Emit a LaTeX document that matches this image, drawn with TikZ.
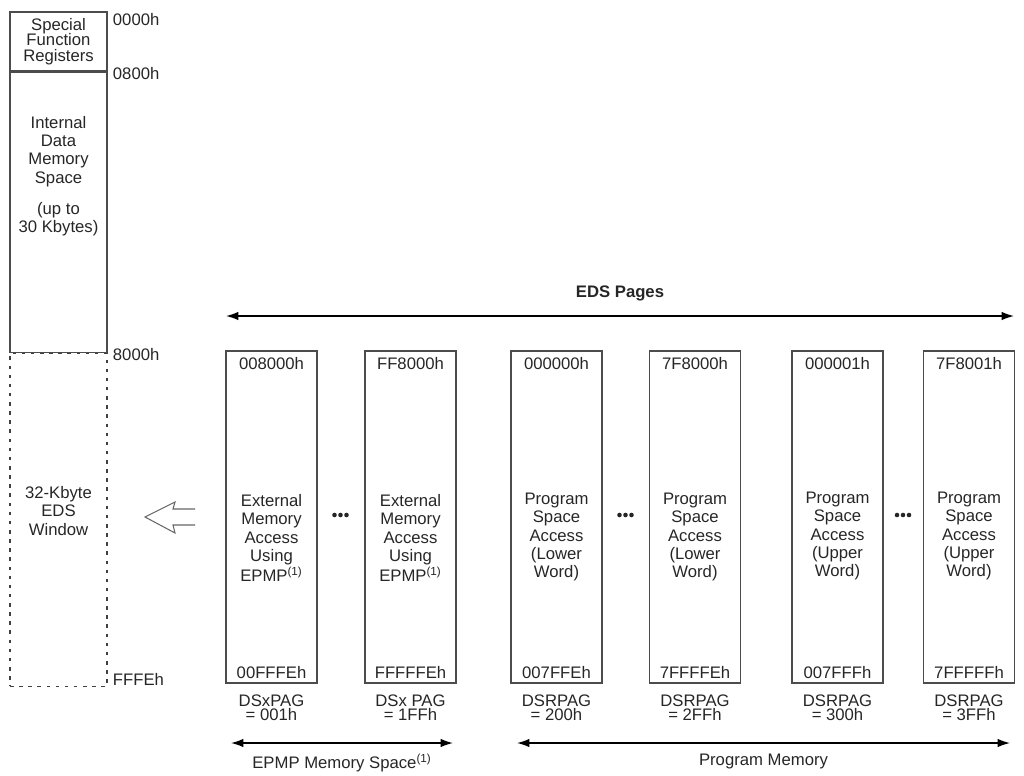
\documentclass[tikz,border=0pt]{standalone}
\usepackage{fontspec}
\setmainfont{Liberation Sans}
\usetikzlibrary{arrows.meta,positioning}

\begin{document}
\begin{tikzpicture}[x=0.02cm, y=-0.02cm,
  txt/.style={font=\fontsize{9.5}{10.5}\selectfont, align=center, inner sep=0pt, text=black!85},
  addr/.style={font=\fontsize{9.5}{10.5}\selectfont, inner sep=0pt, text=black!85},
  pagval/.style={font=\fontsize{9.5}{8}\selectfont, align=center, inner sep=0pt, text=black!85},
  regbox/.style={draw=black!70, line width=0.7pt, minimum width=1.94cm, inner sep=0pt,
                 font=\fontsize{9.5}{9}\selectfont, align=center, text=black!85},
  winbox/.style={regbox, draw=black!75, dash pattern=on 2pt off 3.2pt, minimum height=6.66cm},
  page/.style={draw=black!70, line width=0.7pt, minimum width=1.82cm,
               minimum height=6.64cm, inner sep=0pt},
  span/.style={{Latex[length=7pt,width=4.8pt]}-{Latex[length=7pt,width=4.8pt]}, line width=0.8pt},
  dots/.style={fill=black!85, draw=none, circle, inner sep=0pt, minimum size=2.6pt}
]
\useasboundingbox (0,0) rectangle (1024,775);

%% -- Data space column (left) ------------------------------------------------
\node[regbox, minimum height=1.18cm] (sfr) at (58.5,41.5) {Special\\Function\\Registers};
\node[regbox, minimum height=5.6cm, below=0pt of sfr] (idata) {};
\node[winbox, below=0pt of idata] (edswin) {};
\node[txt] (idtext) at (58.5,176) {Internal\\Data\\Memory\\Space\\[7pt](up to\\30 Kbytes)};
\node[txt] (wintext) at (58.5,511) {32-Kbyte\\EDS\\Window};

% addresses on the right of the column
\node[addr, anchor=north west] (a0000) at ([xshift=0.1cm,yshift=-0.04cm]sfr.north east) {0000h};
\node[addr, anchor=west]       (a0800) at ([xshift=0.1cm,yshift=-0.03cm]sfr.south east) {0800h};
\node[addr, anchor=west]       (a8000) at ([xshift=0.1cm,yshift=-0.04cm]idata.south east) {8000h};
\node[addr, anchor=base west]  (afffe) at ([xshift=0.1cm,yshift=0.02cm]edswin.south east) {FFFEh};

% hollow arrow: page is mapped into the window
\draw[black!60, line width=0.6pt, line join=miter]
  (195,509) -- (173,509) -- (175,502) -- (145,517) -- (175,533) -- (173,525) -- (195,525);

%% -- EDS pages -------------------------------------------------------------
\node[page] (epmpA) at (271.5,517) {};
\node[page] (epmpB) at (410.5,517) {};
\node[page] (psvLA) at (556.5,517) {};
\node[page] (psvLB) at (695,517)   {};
\node[page] (psvUA) at (837.5,517) {};
\node[page] (psvUB) at (969,517)   {};

% start / end addresses
\node[addr, anchor=north] at ([yshift=-0.14cm]epmpA.north) {008000h};
\node[addr, anchor=north] at ([yshift=-0.14cm]epmpB.north) {FF8000h};
\node[addr, anchor=north] at ([yshift=-0.14cm]psvLA.north) {000000h};
\node[addr, anchor=north] at ([yshift=-0.14cm]psvLB.north) {7F8000h};
\node[addr, anchor=north] at ([yshift=-0.14cm]psvUA.north) {000001h};
\node[addr, anchor=north] at ([yshift=-0.14cm]psvUB.north) {7F8001h};
\node[addr, anchor=base] at ([yshift=0.1cm]epmpA.south) {00FFFEh};
\node[addr, anchor=base] at ([yshift=0.1cm]epmpB.south) {FFFFFEh};
\node[addr, anchor=base] at ([yshift=0.1cm]psvLA.south) {007FFEh};
\node[addr, anchor=base] at ([yshift=0.1cm]psvLB.south) {7FFFFEh};
\node[addr, anchor=base] at ([yshift=0.1cm]psvUA.south) {007FFFh};
\node[addr, anchor=base] at ([yshift=0.1cm]psvUB.south) {7FFFFFh};

% what each page holds
\node[txt] at ([yshift=-0.42cm]epmpA.center) {External\\Memory\\Access\\Using\\EPMP\textsuperscript{(1)}};
\node[txt] at ([yshift=-0.42cm]epmpB.center) {External\\Memory\\Access\\Using\\EPMP\textsuperscript{(1)}};
\node[txt] at ([yshift=-0.4cm]psvLA.center) {Program\\Space\\Access\\(Lower\\Word)};
\node[txt] at ([yshift=-0.4cm]psvLB.center) {Program\\Space\\Access\\(Lower\\Word)};
\node[txt] at ([yshift=-0.38cm]psvUA.center) {Program\\Space\\Access\\(Upper\\Word)};
\node[txt] at ([yshift=-0.38cm]psvUB.center) {Program\\Space\\Access\\(Upper\\Word)};

% page register values
\node[pagval, anchor=north] at ([yshift=-0.22cm]epmpA.south) {DSxPAG\\= 001h};
\node[pagval, anchor=north] at ([yshift=-0.22cm]epmpB.south) {DSx PAG\\= 1FFh};
\node[pagval, anchor=north] at ([yshift=-0.22cm]psvLA.south) {DSRPAG\\= 200h};
\node[pagval, anchor=north] at ([yshift=-0.22cm]psvLB.south) {DSRPAG\\= 2FFh};
\node[pagval, anchor=north] at ([yshift=-0.22cm]psvUA.south) {DSRPAG\\= 300h};
\node[pagval, anchor=north] at ([yshift=-0.22cm]psvUB.south) {DSRPAG\\= 3FFh};

% ellipsis between the pages
\foreach \x in {340.5, 625.5, 903} {
  \foreach \d in {-6,0,6}
    \node[dots] at (\x+\d,515) {};
}

%% -- Spans -----------------------------------------------------------------
\coordinate (edsL) at (226,316);
\coordinate (edsR) at (1014,316);
\draw[span] (edsL) -- (edsR)
  node[midway, above=0.28cm, txt, font=\fontsize{9.5}{10.5}\selectfont\bfseries] {EDS Pages};

\coordinate (epmpL) at (231,743);
\coordinate (epmpR) at (453,743);
\draw[span] (epmpL) -- (epmpR)
  node[midway, below=0.2cm, txt] {EPMP Memory Space\textsuperscript{(1)}};

\coordinate (progL) at (517,743);
\coordinate (progR) at (1010,743);
\draw[span] (progL) -- (progR)
  node[pos=0.5, below=0.2cm, txt] {Program Memory};

\end{tikzpicture}
\end{document}
